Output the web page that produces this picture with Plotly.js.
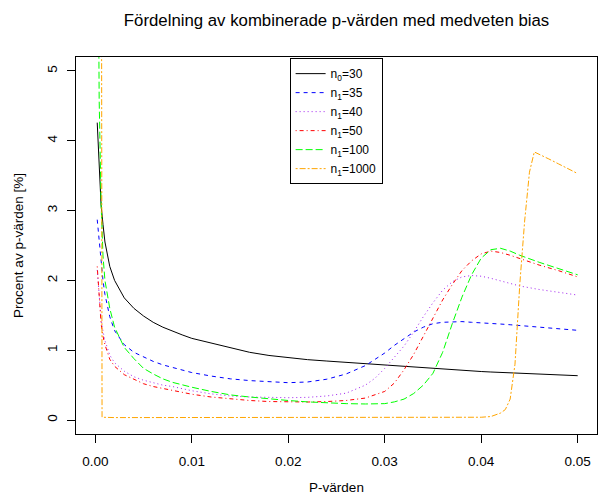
<!DOCTYPE html>
<html>
<head>
<meta charset="utf-8">
<script src="https://cdn.plot.ly/plotly-3.0.1.min.js"></script>
<style>html,body{margin:0;padding:0;background:#fff;}#chart{width:598px;height:499px;}</style>
</head>
<body>
<div id="chart"></div>
<script>
// p-value grid (shared by the first five series)
const pGrid = [0.0002,0.0004,0.0006,0.0008,0.001,0.0015,0.002,0.003,0.004,0.005,0.006,0.007,0.008,0.009,0.01,0.012,0.014,0.016,0.018,0.02,0.022,0.024,0.026,0.028,0.029,0.03,0.031,0.032,0.033,0.034,0.035,0.036,0.037,0.038,0.039,0.04,0.041,0.042,0.043,0.044,0.046,0.048,0.05];

const n0_30 = [4.26,3.6,3.08,2.8,2.55,2.2,2.0,1.75,1.6,1.49,1.4,1.33,1.27,1.22,1.17,1.10,1.03,0.97,0.925,0.89,0.865,0.845,0.825,0.805,0.795,0.785,0.775,0.765,0.755,0.745,0.735,0.727,0.719,0.711,0.703,0.695,0.688,0.681,0.674,0.667,0.655,0.645,0.635];

const n1_35 = [2.87,2.55,2.25,2.0,1.8,1.48,1.28,1.08,0.97,0.9,0.84,0.79,0.75,0.71,0.68,0.63,0.59,0.565,0.545,0.535,0.545,0.585,0.66,0.78,0.87,0.96,1.07,1.17,1.26,1.33,1.38,1.4,1.41,1.41,1.4,1.395,1.385,1.375,1.365,1.355,1.33,1.305,1.285];

const n1_40 = [2.15,1.75,1.45,1.27,1.14,0.93,0.82,0.7,0.62,0.57,0.53,0.5,0.48,0.45,0.42,0.375,0.345,0.33,0.32,0.32,0.325,0.345,0.385,0.5,0.6,0.74,0.9,1.06,1.26,1.48,1.68,1.86,1.98,2.05,2.07,2.06,2.03,1.99,1.95,1.92,1.87,1.83,1.79];

const n1_50 = [2.2,1.72,1.38,1.2,1.08,0.87,0.77,0.65,0.58,0.52,0.48,0.45,0.425,0.4,0.37,0.33,0.3,0.28,0.265,0.258,0.258,0.265,0.28,0.315,0.36,0.41,0.53,0.72,0.94,1.2,1.46,1.72,1.94,2.14,2.28,2.38,2.42,2.4,2.36,2.31,2.22,2.14,2.05];

const n1_100 = [9,4.6,3.1,2.35,2.0,1.6,1.33,1.04,0.88,0.74,0.66,0.59,0.54,0.5,0.47,0.41,0.36,0.33,0.3,0.28,0.26,0.245,0.235,0.23,0.23,0.235,0.26,0.3,0.38,0.5,0.67,0.97,1.38,1.76,2.08,2.32,2.44,2.46,2.42,2.36,2.26,2.17,2.08];

// n1 = 1000 has its own grid
const pGrid1000 = [0.0002,0.0007,0.002,0.005,0.01,0.015,0.02,0.025,0.03,0.035,0.04,0.041,0.042,0.0425,0.043,0.0435,0.044,0.0445,0.045,0.0455,0.046,0.047,0.048,0.049,0.05];
const n1_1000 = [60,0.04,0.035,0.035,0.035,0.035,0.035,0.035,0.035,0.035,0.04,0.05,0.1,0.15,0.3,0.8,1.95,2.85,3.55,3.84,3.81,3.74,3.67,3.6,3.53];

const seriesNames = ["n<sub>0</sub>=30","n<sub>1</sub>=35","n<sub>1</sub>=40","n<sub>1</sub>=50","n<sub>1</sub>=100","n<sub>1</sub>=1000"];
const xTicks = [0,0.01,0.02,0.03,0.04,0.05];
const yTicks = [0,1,2,3,4,5];

const styles = [
  {color:"#000000", dash:"solid"},
  {color:"#0000FF", dash:"4px,4px"},
  {color:"#A020F0", dash:"1px,3px"},
  {color:"#FF0000", dash:"1px,3px,4px,3px"},
  {color:"#00FF00", dash:"7px,3px"},
  {color:"#FFA500", dash:"2px,2px,6px,2px"}
];
const xs = [pGrid,pGrid,pGrid,pGrid,pGrid,pGrid1000];
const ys = [n0_30,n1_35,n1_40,n1_50,n1_100,n1_1000];

const traces = ys.map((y,i)=>({
  x: xs[i], y: y, type:"scatter", mode:"lines", name: seriesNames[i],
  line:{color:styles[i].color, width:1, dash:styles[i].dash}
}));

const font = "Liberation Sans, Arial, Helvetica, sans-serif";
const layout = {
  width:598, height:499,
  margin:{l:76, r:1, t:57, b:65, pad:0},
  paper_bgcolor:"#fff", plot_bgcolor:"#fff",
  font:{family:font, size:13.5, color:"#000"},
  title:{text:"Fördelning av kombinerade p-värden med medveten bias", font:{family:font, size:16.8, color:"#000"},
         x:0.5, xref:"paper", xanchor:"center", y:1-20/499, yref:"container", yanchor:"middle"},
  xaxis:{range:[-0.002,0.052], tickvals:xTicks, ticktext:xTicks.map(v=>v.toFixed(2)),
         ticks:"outside", ticklen:8, tickwidth:1, tickcolor:"#000", ticklabelstandoff:7,
         tickfont:{size:13.5},
         showline:true, mirror:true, linecolor:"#000", linewidth:1, showgrid:false, zeroline:false,
         title:{text:"P-värden", font:{size:13.5}, standoff:14}},
  yaxis:{range:[-0.2,5.2], tickvals:yTicks, ticktext:yTicks.map(String), tickangle:-90,
         ticks:"outside", ticklen:8, tickwidth:1, tickcolor:"#000", ticklabelstandoff:5,
         tickfont:{size:13.5},
         showline:true, mirror:true, linecolor:"#000", linewidth:1, showgrid:false, zeroline:false,
         title:{text:"Procent av p-värden [%]", font:{size:13.5}, standoff:17}},
  showlegend:true,
  legend:{x:0.41, y:0.997, xanchor:"left", yanchor:"top", bgcolor:"#fff", bordercolor:"#000", borderwidth:1,
          font:{family:font, size:12, color:"#000"}, tracegroupgap:0}
};
Plotly.newPlot("chart", traces, layout, {staticPlot:true, displayModeBar:false});
</script>
</body>
</html>
